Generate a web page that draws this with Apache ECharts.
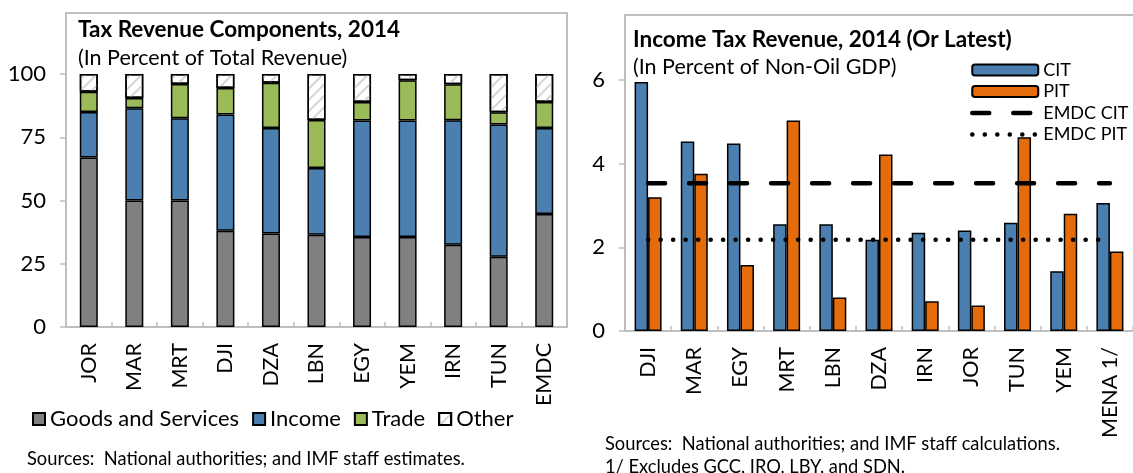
<!DOCTYPE html>
<html>
<head>
<meta charset="utf-8">
<script src="https://cdn.jsdelivr.net/npm/echarts@6/dist/echarts.min.js"></script>
<style>
    * { margin: 0; padding: 0; }
    body { background: #fff; }
    #main { width: 1133px; height: 473px; }
</style>
</head>
<body>
<div id="main"></div>
<script>
    // left panel: tax revenue components, % of total revenue
    var taxCountries = ['JOR', 'MAR', 'MRT', 'DJI', 'DZA', 'LBN', 'EGY', 'YEM', 'IRN', 'TUN', 'EMDC'];
    var goodsServices = [67, 50, 50, 38, 37, 36.5, 35.6, 35.6, 32.5, 27.8, 44.7];
    var income = [18, 36.5, 32.5, 46, 41.7, 26.3, 46, 46, 49.2, 52.2, 34];
    var trade = [8, 4, 13.5, 10.5, 17.8, 19, 7.3, 15.9, 14.2, 4.9, 10.2];
    var other = [7, 9.5, 4, 5.5, 3.5, 18.2, 11.1, 2.5, 4.1, 15.1, 11.1];
    var taxTicks = [0, 25, 50, 75, 100];

    // right panel: income tax revenue, % of non-oil GDP
    var incCountries = ['DJI', 'MAR', 'EGY', 'MRT', 'LBN', 'DZA', 'IRN', 'JOR', 'TUN', 'YEM', 'MENA 1/'];
    var cit = [5.95, 4.53, 4.48, 2.55, 2.55, 2.18, 2.35, 2.4, 2.59, 1.43, 3.06];
    var pit = [3.2, 3.76, 1.58, 5.03, 0.8, 4.22, 0.71, 0.61, 4.63, 2.8, 1.9];
    var emdcCit = [3.53, 3.53, 3.53, 3.53, 3.53, 3.53, 3.53, 3.53, 3.53, 3.53, 3.53];
    var emdcPit = [2.18, 2.18, 2.18, 2.18, 2.18, 2.18, 2.18, 2.18, 2.18, 2.18, 2.18];
    var incTicks = [0, 2, 4, 6];

    var FONT = 'Lato';
    var GRAY = '#bfbfbf';
    var DASH = { color: '#000', width: 4.5, type: [17, 24], cap: 'round' };
    var DOTS = { color: '#000', width: 4.5, type: [0.1, 12.4], cap: 'round' };

    var myChart = echarts.init(document.getElementById('main'));

    function catAxis(idx, data) {
        return {
            type: 'category', gridIndex: idx, data: data,
            axisLine: { lineStyle: { color: GRAY, width: 2 } },
            axisTick: { show: true, inside: true, length: 5, lineStyle: { color: GRAY, width: 1.5 } },
            axisLabel: { rotate: 90, margin: 16, fontSize: 21.5, color: '#000', fontFamily: FONT },
            splitLine: { show: false }
        };
    }
    function valAxis(idx, ticks) {
        return {
            type: 'value', gridIndex: idx,
            min: ticks[0], max: ticks[ticks.length - 1], interval: ticks[1] - ticks[0],
            axisLine: { show: true, lineStyle: { color: GRAY, width: 2 } },
            axisTick: { show: true, length: 6, lineStyle: { color: GRAY, width: 1.5 } },
            axisLabel: { margin: 20, fontSize: 22, color: '#000', fontFamily: FONT },
            splitLine: { show: false }
        };
    }
    function stackBar(name, data, color, extra) {
        var s = {
            name: name, type: 'bar', stack: 'tax', xAxisIndex: 0, yAxisIndex: 0,
            barWidth: 18, data: data,
            itemStyle: { color: color, borderColor: '#000', borderWidth: 1.5 }
        };
        if (extra) s.itemStyle.decal = extra;
        return s;
    }
    function txt(x, y, s, size, bold) {
        return {
            type: 'text', x: x, y: y,
            style: {
                text: s, font: (bold ? 'bold ' : '') + size + 'px ' + FONT, fill: '#000',
                verticalAlign: 'middle'
            }
        };
    }

    var option = {
        animation: false,
        grid: [
            { left: 66, top: 74, width: 501, height: 253 },
            { left: 625, top: 80, width: 518, height: 251 }
        ],
        xAxis: [catAxis(0, taxCountries), catAxis(1, incCountries)],
        yAxis: [valAxis(0, taxTicks), valAxis(1, incTicks)],
        legend: [
            {
                left: 27, top: 403, itemWidth: 12, itemHeight: 12, itemGap: 13,
                icon: 'rect',
                textStyle: { fontSize: 22, color: '#000', fontFamily: FONT },
                data: ['Goods and Services', 'Income', 'Trade', 'Other']
            },
            {
                left: 965, top: 56, orient: 'vertical', itemWidth: 66, itemHeight: 11, itemGap: 3.5,
                textStyle: { fontSize: 18, lineHeight: 18, color: '#000', fontFamily: FONT },
                data: ['CIT', 'PIT',
                    { name: 'EMDC CIT', itemStyle: { opacity: 0 }, lineStyle: DASH },
                    { name: 'EMDC PIT', itemStyle: { opacity: 0 }, lineStyle: DOTS }]
            }
        ],
        graphic: [
            { type: 'rect', shape: { x: 66, y: 13, width: 501, height: 314 }, style: { fill: 'none', stroke: GRAY, lineWidth: 2 }, z: -1 },
            { type: 'rect', shape: { x: 625, y: 15, width: 560, height: 316 }, style: { fill: 'none', stroke: GRAY, lineWidth: 2 }, z: -1 },
            txt(78, 30, 'Tax Revenue Components, 2014', 22.5, true),
            txt(78, 58, '(In Percent of Total Revenue)', 21.5, false),
            txt(633, 40, 'Income Tax Revenue, 2014 (Or Latest)', 22.5, true),
            txt(633, 67, '(In Percent of Non-Oil GDP)', 21.5, false),
            txt(27, 459, 'Sources:  National authorities; and IMF staff estimates.', 18.3, false),
            txt(605, 444, 'Sources:  National authorities; and IMF staff calculations.', 18.3, false),
            txt(605, 467, '1/ Excludes GCC, IRQ, LBY, and SDN.', 18.3, false)
        ],
        series: [
            stackBar('Goods and Services', goodsServices, '#808080'),
            stackBar('Income', income, '#4a7fb0'),
            stackBar('Trade', trade, '#9bbb59'),
            stackBar('Other', other, '#ffffff', {
                symbol: 'rect', symbolSize: 1, color: '#d4d4d4',
                dashArrayX: [1, 0], dashArrayY: [1.5, 6], rotation: -Math.PI / 4
            }),
            {
                name: 'CIT', type: 'bar', xAxisIndex: 1, yAxisIndex: 1, data: cit,
                barWidth: 13.5, barGap: '0%',
                itemStyle: { color: '#4a7fb0', borderColor: '#000', borderWidth: 1.5 }
            },
            {
                name: 'PIT', type: 'bar', xAxisIndex: 1, yAxisIndex: 1, data: pit,
                barWidth: 13.5, barGap: '0%',
                itemStyle: { color: '#e46c0a', borderColor: '#000', borderWidth: 1.5 }
            },
            {
                name: 'EMDC CIT', type: 'line', xAxisIndex: 1, yAxisIndex: 1, data: emdcCit,
                symbol: 'none', z: 5, color: '#000', lineStyle: DASH
            },
            {
                name: 'EMDC PIT', type: 'line', xAxisIndex: 1, yAxisIndex: 1, data: emdcPit,
                symbol: 'none', z: 5, color: '#000', lineStyle: DOTS
            }
        ]
    };

    myChart.setOption(option);
</script>
</body>
</html>
